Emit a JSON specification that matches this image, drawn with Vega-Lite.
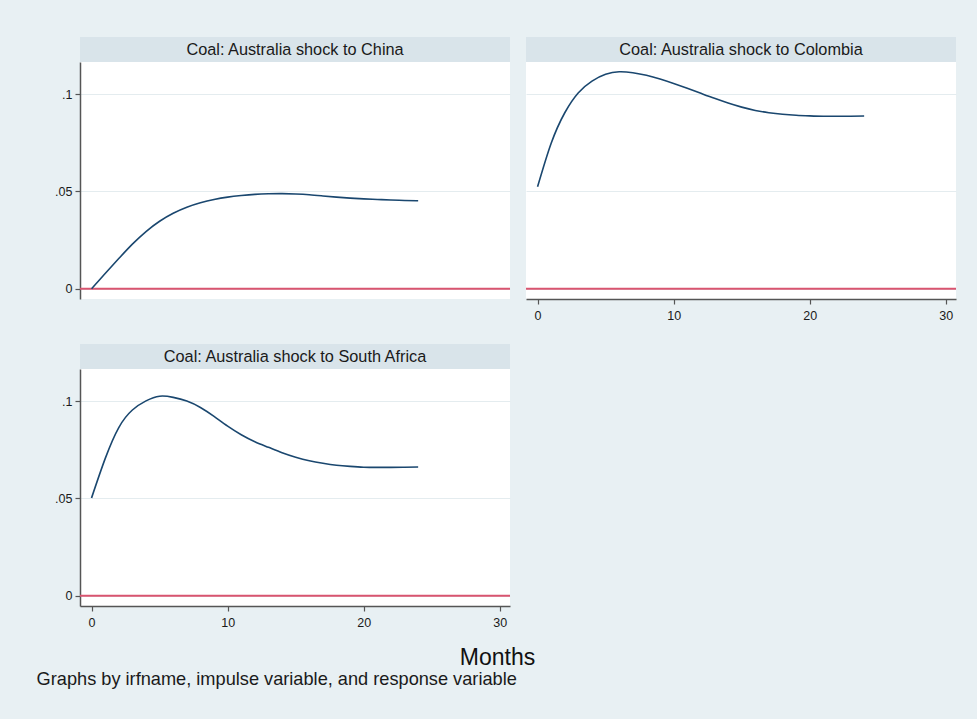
{
  "$schema": "https://vega.github.io/schema/vega-lite/v6.json",
  "background": "#e8f0f3",
  "padding": {"left": 36, "top": 37, "right": 22, "bottom": 40},
  "config": {
    "font": "Liberation Sans",
    "view": {"stroke": null},
    "axis": {"labelFont": "Liberation Sans", "titleFont": "Liberation Sans"}
  },
  "datasets": {
    "china": [
      {"month": 0, "irf": 0}, {"month": 1, "irf": 0.0078}, {"month": 2, "irf": 0.0155}, {"month": 3, "irf": 0.0229},
      {"month": 4, "irf": 0.0294}, {"month": 5, "irf": 0.0347}, {"month": 6, "irf": 0.0388}, {"month": 7, "irf": 0.0419},
      {"month": 8, "irf": 0.0442}, {"month": 9, "irf": 0.0459}, {"month": 10, "irf": 0.0471}, {"month": 11, "irf": 0.0479},
      {"month": 12, "irf": 0.0485}, {"month": 13, "irf": 0.0488}, {"month": 14, "irf": 0.0489}, {"month": 15, "irf": 0.0487},
      {"month": 16, "irf": 0.0483}, {"month": 17, "irf": 0.0477}, {"month": 18, "irf": 0.0471}, {"month": 19, "irf": 0.0466},
      {"month": 20, "irf": 0.0462}, {"month": 21, "irf": 0.0459}, {"month": 22, "irf": 0.0456}, {"month": 23, "irf": 0.0454},
      {"month": 24, "irf": 0.0452}
    ],
    "colombia": [
      {"month": 0, "irf": 0.0524}, {"month": 1, "irf": 0.0748}, {"month": 2, "irf": 0.0905}, {"month": 3, "irf": 0.1008},
      {"month": 4, "irf": 0.1068}, {"month": 5, "irf": 0.1103}, {"month": 6, "irf": 0.1116}, {"month": 7, "irf": 0.1111},
      {"month": 8, "irf": 0.1098}, {"month": 9, "irf": 0.1079}, {"month": 10, "irf": 0.1056}, {"month": 11, "irf": 0.1031},
      {"month": 12, "irf": 0.1005}, {"month": 13, "irf": 0.0979}, {"month": 14, "irf": 0.0955}, {"month": 15, "irf": 0.0934},
      {"month": 16, "irf": 0.0917}, {"month": 17, "irf": 0.0905}, {"month": 18, "irf": 0.0897}, {"month": 19, "irf": 0.0892},
      {"month": 20, "irf": 0.0889}, {"month": 21, "irf": 0.0887}, {"month": 22, "irf": 0.0887}, {"month": 23, "irf": 0.0887},
      {"month": 24, "irf": 0.0888}
    ],
    "southafrica": [
      {"month": 0, "irf": 0.0503}, {"month": 1, "irf": 0.0705}, {"month": 2, "irf": 0.0865}, {"month": 3, "irf": 0.0955},
      {"month": 4, "irf": 0.1002}, {"month": 5, "irf": 0.1026}, {"month": 6, "irf": 0.102}, {"month": 7, "irf": 0.1001},
      {"month": 8, "irf": 0.0968}, {"month": 9, "irf": 0.0922}, {"month": 10, "irf": 0.0872}, {"month": 11, "irf": 0.0828},
      {"month": 12, "irf": 0.0792}, {"month": 13, "irf": 0.0763}, {"month": 14, "irf": 0.0735}, {"month": 15, "irf": 0.0712},
      {"month": 16, "irf": 0.0694}, {"month": 17, "irf": 0.0681}, {"month": 18, "irf": 0.0671}, {"month": 19, "irf": 0.0665},
      {"month": 20, "irf": 0.0661}, {"month": 21, "irf": 0.066}, {"month": 22, "irf": 0.066}, {"month": 23, "irf": 0.0661},
      {"month": 24, "irf": 0.0662}
    ]
  },
  "title": {
    "text": "Graphs by irfname, impulse variable, and response variable",
    "orient": "bottom",
    "anchor": "start",
    "frame": "bounds",
    "fontSize": 18.2,
    "fontWeight": "normal",
    "color": "#1a1a1a",
    "offset": 2,
    "dx": -18
  },
  "spacing": 22,
  "vconcat": [
    {
      "spacing": 14,
      "hconcat": [
        {
          "spacing": 0,
          "vconcat": [
            {
              "width": 430, "height": 25,
              "view": {"fill": "#d9e4ea", "stroke": null},
              "data": {"values": [{"t": "Coal: Australia shock to China"}]},
              "mark": {"type": "text", "fontSize": 16.3, "color": "#1a1a1a"},
              "encoding": {"text": {"field": "t"}}
            },
            {
              "width": 430, "height": 237,
              "view": {"fill": "white", "stroke": null},
              "layer": [
                {
                  "data": {"values": [{}]},
                  "mark": {"type": "rule", "color": "#d9546f", "strokeWidth": 2},
                  "encoding": {"y": {"datum": 0, "type": "quantitative"}}
                },
                {
                  "data": {"name": "china"},
                  "mark": {"type": "line", "color": "#1a476f", "strokeWidth": 1.6, "interpolate": "natural"},
                  "encoding": {
                    "x": {"field": "month", "type": "quantitative", "scale": {"domain": [-0.85, 30.75], "nice": false, "zero": false}, "axis": null},
                    "y": {"field": "irf", "type": "quantitative", "scale": {"domain": [-0.0053, 0.1166], "nice": false, "zero": false},
                      "axis": {"values": [0, 0.05, 0.1], "title": null, "labelExpr": "datum.value == 0 ? '0' : substring(format(datum.value, '.2~f'), 1)",
                        "grid": true, "gridColor": "#e4ecef", "gridWidth": 1, "domainColor": "#555555", "domainWidth": 1.5,
                        "tickColor": "#555555", "tickSize": 5, "tickWidth": 1.2, "labelFontSize": 12.5, "labelColor": "#1a1a1a", "labelPadding": 3}}
                  }
                }
              ]
            }
          ]
        },
        {
          "spacing": 0,
          "vconcat": [
            {
              "width": 430, "height": 25,
              "view": {"fill": "#d9e4ea", "stroke": null},
              "data": {"values": [{"t": "Coal: Australia shock to Colombia"}]},
              "mark": {"type": "text", "fontSize": 16.3, "color": "#1a1a1a"},
              "encoding": {"text": {"field": "t"}}
            },
            {
              "width": 430, "height": 237,
              "view": {"fill": "white", "stroke": null},
              "layer": [
                {
                  "data": {"values": [{}]},
                  "mark": {"type": "rule", "color": "#d9546f", "strokeWidth": 2},
                  "encoding": {"y": {"datum": 0, "type": "quantitative"}}
                },
                {
                  "data": {"name": "colombia"},
                  "mark": {"type": "line", "color": "#1a476f", "strokeWidth": 1.6, "interpolate": "natural"},
                  "encoding": {
                    "x": {"field": "month", "type": "quantitative", "scale": {"domain": [-0.85, 30.75], "nice": false, "zero": false},
                      "axis": {"values": [0, 10, 20, 30], "title": null, "grid": false, "domainColor": "#555555", "domainWidth": 1.5,
                        "tickColor": "#555555", "tickSize": 5, "tickWidth": 1.2, "labelFontSize": 12.5, "labelColor": "#1a1a1a", "labelPadding": 5, "labelFlush": false}},
                    "y": {"field": "irf", "type": "quantitative", "scale": {"domain": [-0.0053, 0.1166], "nice": false, "zero": false},
                      "axis": {"values": [0, 0.05, 0.1], "title": null, "labels": false, "ticks": false, "domain": false,
                        "grid": true, "gridColor": "#e4ecef", "gridWidth": 1}}
                  }
                }
              ]
            }
          ]
        }
      ]
    },
    {
      "spacing": 0,
      "vconcat": [
        {
          "width": 430, "height": 25,
          "view": {"fill": "#d9e4ea", "stroke": null},
          "data": {"values": [{"t": "Coal: Australia shock to South Africa"}]},
          "mark": {"type": "text", "fontSize": 16.3, "color": "#1a1a1a"},
          "encoding": {"text": {"field": "t"}}
        },
        {
          "width": 430, "height": 237,
          "view": {"fill": "white", "stroke": null},
          "layer": [
            {
              "data": {"values": [{}]},
              "mark": {"type": "rule", "color": "#d9546f", "strokeWidth": 2},
              "encoding": {"y": {"datum": 0, "type": "quantitative"}}
            },
            {
              "data": {"name": "southafrica"},
              "mark": {"type": "line", "color": "#1a476f", "strokeWidth": 1.6, "interpolate": "natural"},
              "encoding": {
                "x": {"field": "month", "type": "quantitative", "scale": {"domain": [-0.85, 30.75], "nice": false, "zero": false},
                  "axis": {"values": [0, 10, 20, 30], "title": "Months", "grid": false, "domainColor": "#555555", "domainWidth": 1.5,
                    "tickColor": "#555555", "tickSize": 5, "tickWidth": 1.2, "labelFontSize": 12.5, "labelColor": "#1a1a1a", "labelPadding": 5, "labelFlush": false,
                    "titleFontSize": 23, "titleFontWeight": "normal", "titleColor": "#111111", "titleX": 417, "titleY": 58, "titleBaseline": "alphabetic", "titleAlign": "center"}},
                "y": {"field": "irf", "type": "quantitative", "scale": {"domain": [-0.0053, 0.1166], "nice": false, "zero": false},
                  "axis": {"values": [0, 0.05, 0.1], "title": null, "labelExpr": "datum.value == 0 ? '0' : substring(format(datum.value, '.2~f'), 1)",
                    "grid": true, "gridColor": "#e4ecef", "gridWidth": 1, "domainColor": "#555555", "domainWidth": 1.5,
                    "tickColor": "#555555", "tickSize": 5, "tickWidth": 1.2, "labelFontSize": 12.5, "labelColor": "#1a1a1a", "labelPadding": 3}}
              }
            }
          ]
        }
      ]
    }
  ]
}
